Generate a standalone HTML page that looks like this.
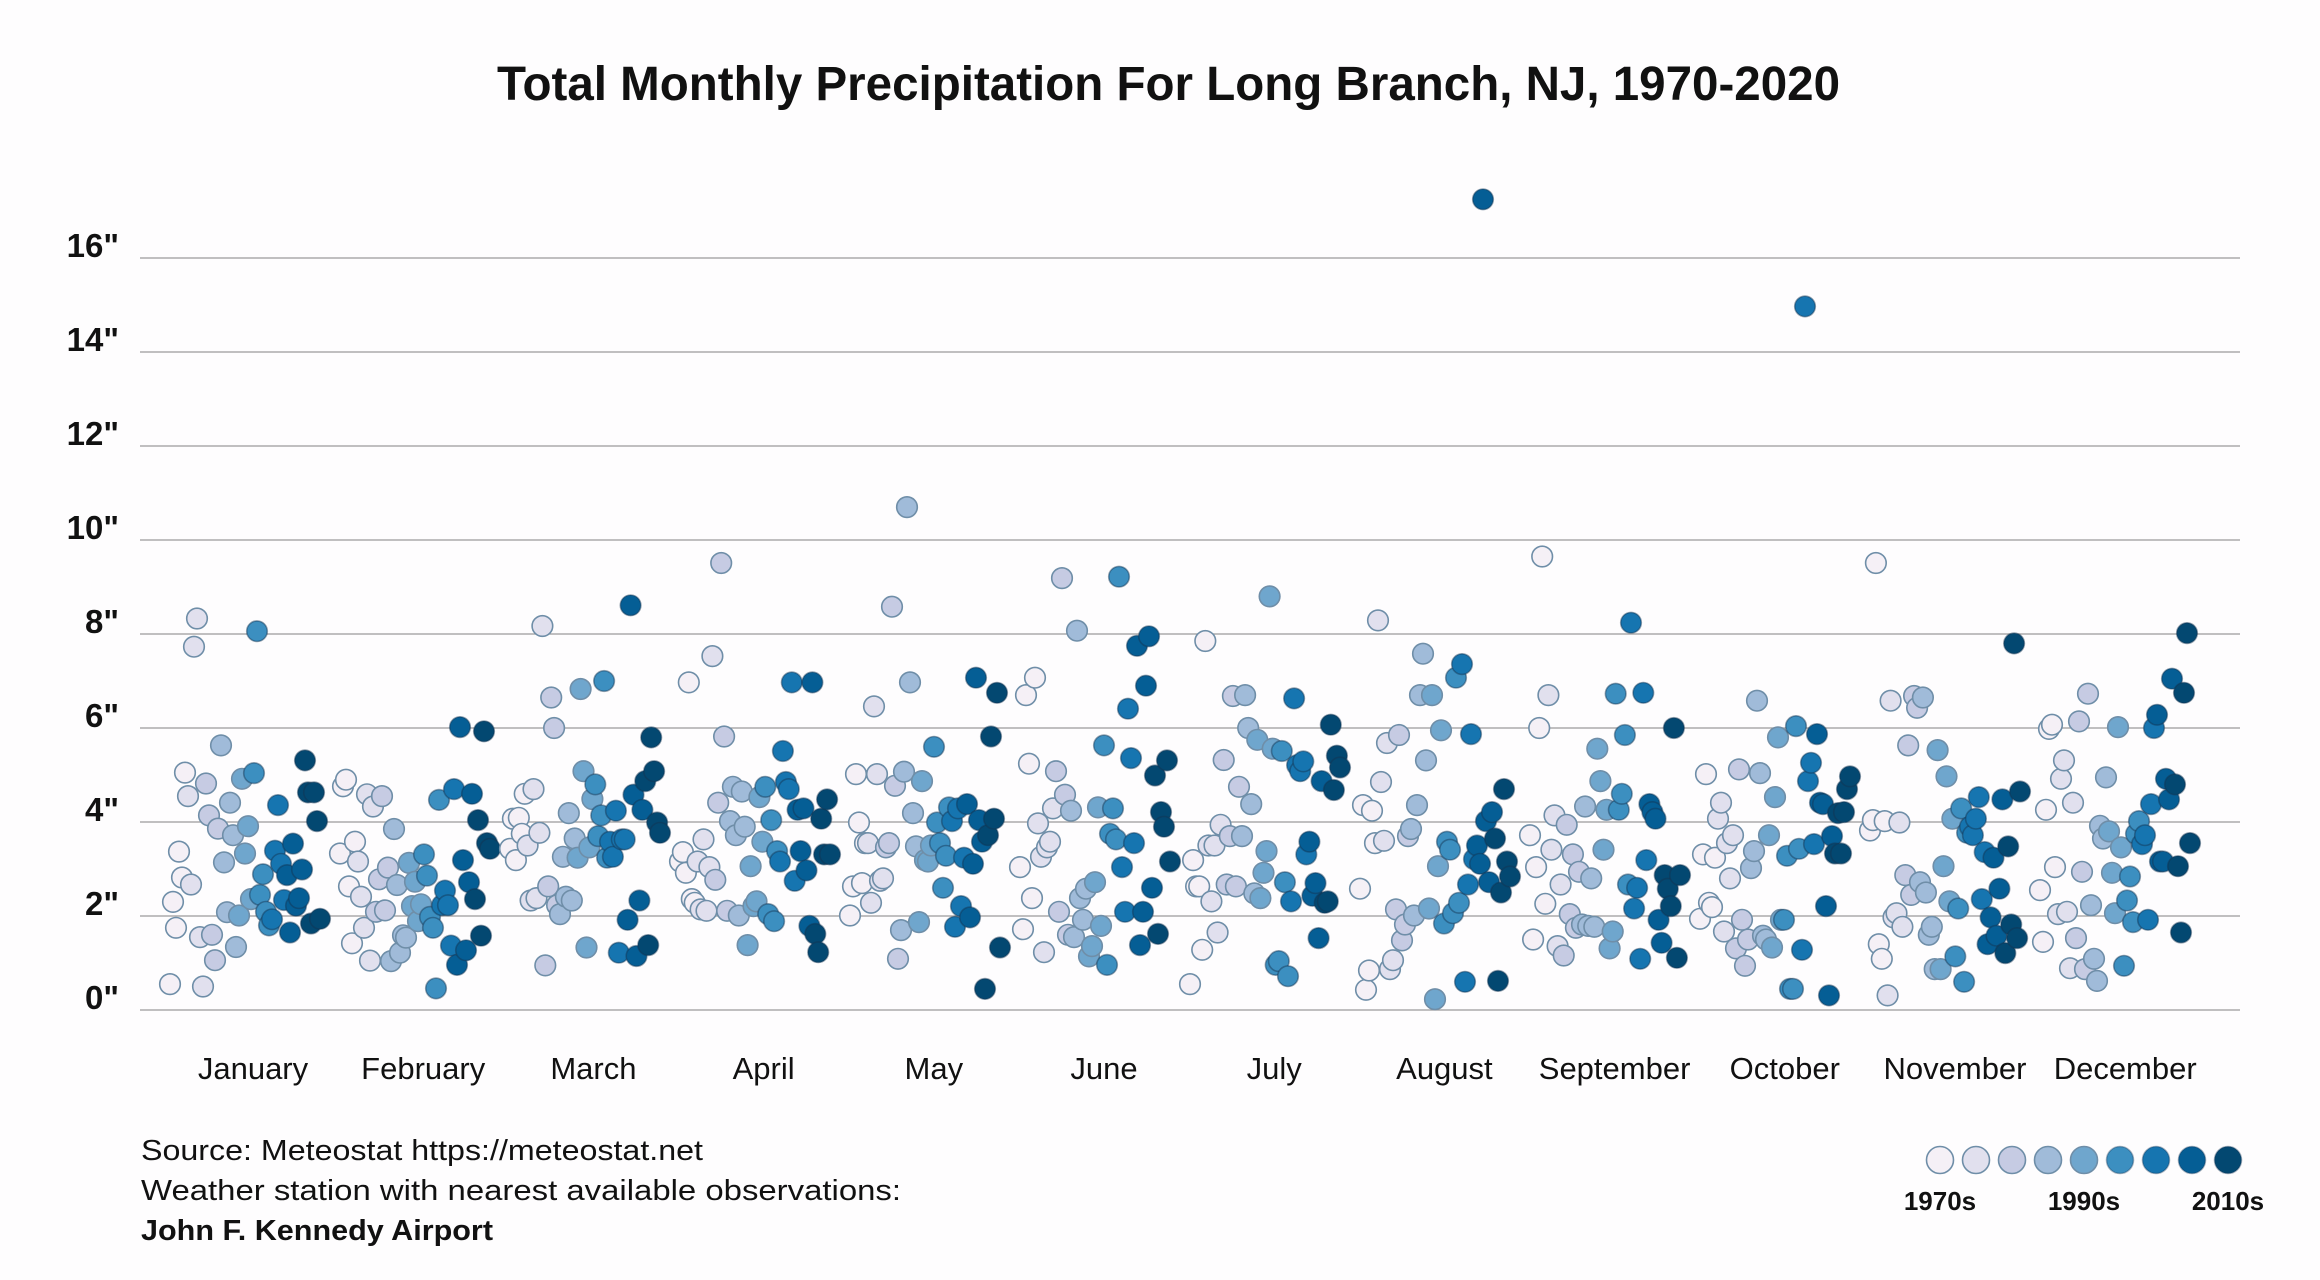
<!DOCTYPE html>
<html><head><meta charset="utf-8"><style>
html,body{margin:0;padding:0;background:#fefdfe;}
svg{display:block;}
text{font-family:"Liberation Sans",sans-serif;fill:#111;}
</style></head><body>
<svg id="chart" width="2320" height="1280" viewBox="0 0 2320 1280" xmlns="http://www.w3.org/2000/svg">
<rect width="2320" height="1280" fill="#fefdfe"/>
<text x="497" y="100" font-size="48" font-weight="bold" textLength="1343" lengthAdjust="spacingAndGlyphs">Total Monthly Precipitation For Long Branch, NJ, 1970-2020</text>
<g id="grid"></g>
<g id="ylabels"></g>
<g id="xlabels"></g>
<g id="dots"></g>
<text x="141" y="1160" font-size="29" textLength="562" lengthAdjust="spacingAndGlyphs">Source: Meteostat https://meteostat.net</text>
<text x="141" y="1200" font-size="29" textLength="760" lengthAdjust="spacingAndGlyphs">Weather station with nearest available observations:</text>
<text x="141" y="1240" font-size="29" font-weight="bold" textLength="352" lengthAdjust="spacingAndGlyphs">John F. Kennedy Airport</text>
<g id="legend"></g>
</svg>
<script>
const months = ["January","February","March","April","May","June","July","August","September","October","November","December"];
const yTicks = [0,2,4,6,8,10,12,14,16];
const yTickLabels = ['0"','2"','4"','6"','8"','10"','12"','14"','16"'];
const decadeColors = ["#f5f0f6","#e1e0ee","#c6cbe3","#a0bbd9","#6fa6cd","#3c8fc0","#1675b0","#055e95","#034871"];
const legendLabels = ["1970s","1990s","2010s"];
const janVals = [0.55,2.3,1.75,3.37,2.82,5.05,4.55,2.67,7.73,8.33,1.55,0.5,4.82,4.14,1.6,1.06,3.86,5.63,3.14,2.08,4.41,3.72,1.34,2.01,4.92,3.33,3.91,2.36,5.04,8.06,2.45,2.89,2.09,1.8,1.93,3.39,4.36,3.11,2.34,2.87,1.65,3.54,2.22,2.38,2.99,5.31,4.63,1.84,4.63,4.02,1.94];
const febVals = [3.33,4.76,4.9,2.63,1.42,3.58,3.16,2.41,1.75,4.59,1.05,4.33,2.09,2.78,4.55,2.12,3.03,1.04,3.85,2.66,1.22,1.59,1.54,3.13,2.21,2.73,1.89,2.25,3.31,2.86,1.98,1.75,0.46,4.47,2.23,2.54,2.23,1.37,4.7,0.96,6.02,3.19,1.27,2.72,4.6,2.36,4.04,1.58,5.93,3.55,3.43];
const marVals = [3.43,4.07,3.19,4.09,3.75,4.6,3.5,2.33,4.7,2.38,3.77,8.17,0.95,2.63,6.65,6.0,2.23,2.04,3.26,2.41,4.19,2.33,3.65,3.24,6.83,5.08,1.33,3.46,4.49,4.8,3.7,4.14,7.0,3.24,3.58,3.26,4.24,1.22,3.63,3.63,1.92,8.61,4.58,1.15,2.33,4.26,4.87,1.38,5.8,5.08,3.99,3.77];
const aprVals = [3.16,3.36,2.92,6.97,2.36,2.28,3.16,2.14,3.63,2.11,3.04,7.53,2.77,4.41,9.51,5.82,2.11,4.02,4.75,3.72,2.01,4.65,3.9,1.38,3.06,2.21,2.31,4.53,3.58,4.75,2.04,4.04,1.89,3.38,3.16,5.51,4.85,4.7,6.97,2.75,4.26,3.38,4.29,2.97,1.79,6.97,1.62,1.23,4.07,3.31,4.48,3.31];
const mayVals = [2.01,2.63,5.02,3.99,2.7,3.55,3.55,2.28,6.46,5.02,2.75,2.8,3.46,3.55,8.58,4.77,1.09,1.7,5.07,10.7,6.97,4.19,3.48,1.87,4.87,3.19,3.16,3.5,5.6,3.99,3.55,2.6,3.28,4.31,4.02,1.77,4.29,2.21,3.24,4.38,1.97,3.11,7.07,4.04,3.58,0.45,3.72,5.82,4.07,6.75,1.33];
const junVals = [3.04,1.72,6.7,5.24,2.38,7.07,3.97,3.26,1.23,3.46,3.58,4.29,5.08,2.09,9.19,4.58,1.6,4.24,1.55,8.07,2.38,1.92,2.58,1.14,1.36,2.72,4.31,1.79,5.63,0.96,3.75,4.29,3.63,9.22,3.04,2.09,6.41,5.36,3.55,7.75,1.38,2.09,6.9,7.95,2.6,4.99,1.62,4.21,3.9,5.31,3.16];
const julVals = [0.55,3.19,2.63,2.63,1.28,7.85,3.5,2.31,3.5,1.65,3.94,5.32,2.67,3.7,6.68,2.63,4.75,3.7,6.7,6.0,4.38,2.48,5.75,2.38,2.92,3.38,8.8,5.56,0.96,1.04,5.51,2.72,0.72,2.31,6.63,5.21,5.08,5.29,3.31,3.58,2.43,2.7,1.53,4.87,2.28,2.31,6.07,4.68,5.41,5.16];
const augVals = [2.58,4.36,0.43,0.84,4.24,3.55,8.29,4.85,3.6,5.68,0.87,1.06,2.14,5.85,1.48,1.82,3.7,3.85,2.01,4.36,6.7,7.58,5.31,2.16,6.7,0.23,3.06,5.95,1.84,3.58,3.41,2.06,7.07,2.28,7.36,0.6,2.67,5.87,3.21,3.5,3.11,17.25,4.02,2.72,4.21,3.65,0.62,2.5,4.7,3.16,2.84];
const sepVals = [3.72,1.5,3.04,6.0,9.65,2.26,6.7,3.41,4.14,1.36,2.67,1.16,3.94,2.04,3.31,1.75,2.94,1.82,4.33,1.79,2.8,1.77,5.56,4.87,3.41,4.26,1.31,1.67,6.73,4.26,4.6,5.85,2.67,8.24,2.16,2.6,1.09,6.75,3.19,4.38,4.21,4.07,1.92,1.43,2.87,2.58,2.21,6.0,1.11,2.87];
const octVals = [1.94,3.31,5.02,2.28,2.19,3.24,4.07,4.41,1.67,3.55,2.8,3.72,1.31,5.12,1.92,0.94,1.5,3.02,3.38,6.58,5.04,1.58,1.5,3.72,1.33,4.53,5.8,1.92,1.92,3.28,0.45,0.45,6.04,3.43,1.28,14.97,4.87,5.26,3.53,5.87,4.41,4.38,2.21,0.31,3.7,3.33,4.19,3.33,4.21,4.7,4.97];
const novVals = [3.82,4.04,9.51,1.4,1.09,4.02,0.31,6.58,1.97,2.06,3.99,1.77,2.87,5.63,2.45,6.68,6.43,2.72,6.65,2.5,1.6,1.77,0.87,5.53,0.87,3.06,4.97,2.31,4.07,1.14,2.16,4.29,0.6,3.77,3.9,3.72,4.07,4.53,2.36,3.36,1.4,1.97,3.24,1.58,2.58,4.48,1.21,3.48,1.82,7.8,1.53,4.65];
const decVals = [2.55,1.45,4.26,5.98,6.07,3.04,2.04,4.92,5.31,2.09,0.89,4.41,1.53,6.14,2.94,0.87,6.73,2.23,1.09,0.62,3.92,3.65,4.95,3.8,2.92,2.06,6.02,3.46,0.94,2.33,2.84,1.87,3.75,4.02,3.53,3.72,1.92,4.38,6.0,6.28,3.16,3.16,4.92,4.48,7.05,4.8,3.06,1.65,6.75,8.02,3.55];
const monthVals = [janVals,febVals,marVals,aprVals,mayVals,junVals,julVals,augVals,sepVals,octVals,novVals,decVals];

const NS = "http://www.w3.org/2000/svg";
const X0 = 140, X1 = 2240;
function yScale(v){ return 1010 - v * 47.0; }
function monthStart(m){ return 170 + m * 170; }
function monthCenter(m){ return 253 + m * 170.2; }
function xScale(m, i, n){ return monthStart(m) + (n > 1 ? i / (n - 1) : 0.5) * 150; }

const grid = document.getElementById('grid');
const ylabels = document.getElementById('ylabels');
yTicks.forEach((t, k) => {
  const l = document.createElementNS(NS, 'line');
  
  
  l.setAttribute('x1', X0); l.setAttribute('x2', X1);
  l.setAttribute('y1', yScale(t)); l.setAttribute('y2', yScale(t));
  l.setAttribute('stroke', '#9a9a9a'); l.setAttribute('stroke-width', '1.3');
  grid.appendChild(l);
  const tx = document.createElementNS(NS, 'text');
  
  
  tx.setAttribute('x', 119); tx.setAttribute('y', yScale(t) - 1);
  tx.setAttribute('text-anchor', 'end');
  tx.setAttribute('font-size', '33'); tx.setAttribute('font-weight', 'bold');
  tx.textContent = yTickLabels[k];
  ylabels.appendChild(tx);
});

const xlabels = document.getElementById('xlabels');
months.forEach((m, k) => {
  const tx = document.createElementNS(NS, 'text');
  
  
  tx.setAttribute('x', monthCenter(k)); tx.setAttribute('y', 1079);
  tx.setAttribute('text-anchor', 'middle'); tx.setAttribute('font-size', '31');
  tx.textContent = m;
  xlabels.appendChild(tx);
});

const dots = document.getElementById('dots');
monthVals.forEach((vals, m) => {
  const n = vals.length;
  vals.forEach((v, i) => {
    const idx = Math.min(8, Math.floor(i / (n - 1) * 9));
    const c = document.createElementNS(NS, 'circle');
    
    
    c.setAttribute('cx', xScale(m, i, n).toFixed(1));
    c.setAttribute('cy', yScale(v).toFixed(1));
    c.setAttribute('r', '10.3');
    c.setAttribute('fill', decadeColors[idx]);
    c.setAttribute('stroke', idx < 5 ? '#6f8ea8' : 'rgba(20,50,80,0.45)');
    c.setAttribute('stroke-width', '1.6');
    dots.appendChild(c);
  });
});

const legend = document.getElementById('legend');
decadeColors.forEach((col, k) => {
  const c = document.createElementNS(NS, 'circle');
  
  
  c.setAttribute('cx', 1940 + k * 36); c.setAttribute('cy', 1160);
  c.setAttribute('r', '13.5');
  c.setAttribute('fill', col);
  c.setAttribute('stroke', k < 5 ? '#6f8ea8' : 'rgba(20,50,80,0.35)');
  c.setAttribute('stroke-width', '1.6');
  legend.appendChild(c);
});
legendLabels.forEach((lab, k) => {
  const tx = document.createElementNS(NS, 'text');
  
  
  tx.setAttribute('x', 1940 + k * 144); tx.setAttribute('y', 1210);
  tx.setAttribute('text-anchor', 'middle');
  tx.setAttribute('font-size', '26'); tx.setAttribute('font-weight', 'bold');
  tx.textContent = lab;
  legend.appendChild(tx);
});
</script>
</body></html>
